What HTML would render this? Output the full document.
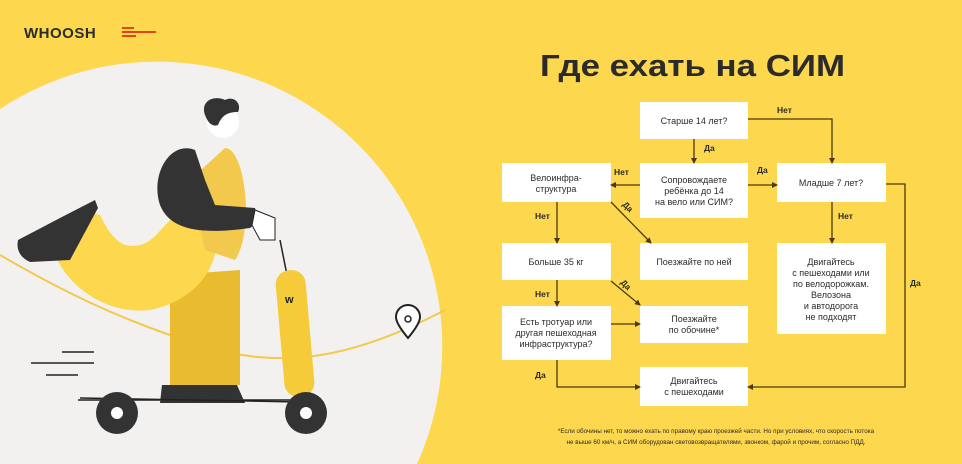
<!DOCTYPE html>
<html><head><meta charset="utf-8"><style>
html,body{margin:0;padding:0;background:#FDD74E;width:962px;height:464px;overflow:hidden;}
svg{display:block;overflow:hidden}
text{font-family:"Liberation Sans",sans-serif;}
</style></head><body>
<svg width="962" height="464" viewBox="0 0 962 464" xmlns="http://www.w3.org/2000/svg">
<defs>
<marker id="a" markerWidth="6" markerHeight="6" refX="5" refY="3" orient="auto" markerUnits="userSpaceOnUse"><path d="M0,0 L6,3 L0,6 z" fill="#4a3a10"/></marker>
</defs>
<rect width="962" height="464" fill="#FDD74E"/>
<path d="M0 109 A285 285 0 0 1 417 464 L0 464 Z" fill="#F2F1EF"/>
<text x="24" y="38" font-size="15" font-weight="bold" fill="#2b2b2b" letter-spacing="0.5">WHOOSH</text>
<path d="M122 28h12M122 32h34M122 36h14" stroke="#E0461E" stroke-width="2"/>
<path d="M0 255 C60 290,120 320,200 345 C280 370,350 360,445 310" stroke="#F2C94C" stroke-width="2" fill="none"/>
<path d="M408 338 C398 326,396 320,396 317 A12 12 0 1 1 420 317 C420 320,418 326,408 338z" fill="#fff" stroke="#222" stroke-width="2"/>
<circle cx="408" cy="319" r="3" fill="none" stroke="#222" stroke-width="1.5"/>
<path d="M62 352h32M31 363h63M46 375h32M78 400h212" stroke="#222" stroke-width="1.5"/>
<path d="M170 275 L240 270 L240 385 L170 385z" fill="#E8BC2E"/>
<path d="M162 385h75l8 18h-85z" fill="#333"/>
<path d="M55 255 C60 230,90 210,100 215 C110 235,120 250,140 245 C160 240,165 215,190 210 L215 220 C225 260,200 300,150 310 C110 315,70 290,55 255z" fill="#FDD74E"/>
<path d="M18 240 L60 218 L95 200 L98 208 L70 260 L30 262 Q15 255,18 240z" fill="#333"/>
<path d="M225 148 C245 148,255 230,235 260 L205 250 L190 180z" fill="#F2C94C"/>
<path d="M195 150 C170 140,150 175,160 205 C170 230,200 235,250 228 L258 222 L255 208 L215 205 L205 180z" fill="#333"/>
<path d="M255 210 L275 218 L275 240 L260 240 L252 225z" fill="#fff" stroke="#222" stroke-width="1"/>
<circle cx="223" cy="122" r="16" fill="#fff"/>
<path d="M205 115 C200 100,215 95,225 100 C235 95,242 105,238 112 C228 112,222 115,218 125 Q210 128,205 115z" fill="#333"/>
<path d="M280 240 L287 275" stroke="#222" stroke-width="1.5"/>
<rect x="280" y="270" width="30" height="127" rx="14" fill="#F6CB3A" transform="rotate(-5 295 333)"/>
<text x="285" y="303" font-size="11" font-weight="bold" fill="#222">w</text>
<path d="M80 398 L300 402" stroke="#222" stroke-width="1.5"/>
<circle cx="117" cy="413" r="21" fill="#333"/><circle cx="117" cy="413" r="6" fill="#fff"/>
<circle cx="306" cy="413" r="21" fill="#333"/><circle cx="306" cy="413" r="6" fill="#fff"/>

<text x="540" y="76" font-size="31" font-weight="bold" fill="#2b2b2b" textLength="305" lengthAdjust="spacingAndGlyphs">Где ехать на СИМ</text>

<g fill="#fff">
<rect x="640" y="102" width="108" height="37"/>
<rect x="640" y="163" width="108" height="55"/>
<rect x="777" y="163" width="109" height="39"/>
<rect x="502" y="163" width="109" height="39"/>
<rect x="502" y="243" width="109" height="37"/>
<rect x="640" y="243" width="108" height="37"/>
<rect x="777" y="243" width="109" height="91"/>
<rect x="502" y="306" width="109" height="54"/>
<rect x="640" y="306" width="108" height="37"/>
<rect x="640" y="367" width="108" height="39"/>
</g>
<g stroke="#4a3a10" stroke-width="1.3" fill="none" marker-end="url(#a)">
<path d="M748 119 H832 V163"/>
<path d="M694 139 V163"/>
<path d="M640 185 H611"/>
<path d="M748 185 H777"/>
<path d="M886 184 H905 V387 H748"/>
<path d="M832 202 V243"/>
<path d="M557 202 V243"/>
<path d="M611 202 L651 243"/>
<path d="M557 280 V306"/>
<path d="M611 281 L640 305"/>
<path d="M611 324 H640"/>
<path d="M557 360 V387 H640"/>
</g>
<g font-size="8.5" fill="#2b2b2b" font-weight="bold">
<text x="777" y="113">Нет</text>
<text x="704" y="151">Да</text>
<text x="614" y="175">Нет</text>
<text x="757" y="173">Да</text>
<text x="838" y="219">Нет</text>
<text x="535" y="219">Нет</text>
<text x="535" y="297">Нет</text>
<text x="535" y="378">Да</text>
<text x="910" y="286">Да</text>
<text x="0" y="0" transform="translate(622,205) rotate(45)">Да</text>
<text x="0" y="0" transform="translate(620,283) rotate(45)">Да</text>
</g>
<g font-size="9" fill="#2b2b2b" text-anchor="middle">
<text x="694" y="124">Старше 14 лет?</text>
<text x="694" y="183">Сопровождаете</text>
<text x="694" y="194">ребёнка до 14</text>
<text x="694" y="205">на вело или СИМ?</text>
<text x="831" y="186">Младше 7 лет?</text>
<text x="556" y="181">Велоинфра-</text>
<text x="556" y="192">структура</text>
<text x="556" y="265">Больше 35 кг</text>
<text x="694" y="265">Поезжайте по ней</text>
<text x="831" y="265">Двигайтесь</text>
<text x="831" y="276">с пешеходами или</text>
<text x="831" y="287">по велодорожкам.</text>
<text x="831" y="298">Велозона</text>
<text x="831" y="309">и автодорога</text>
<text x="831" y="320">не подходят</text>
<text x="556" y="325">Есть тротуар или</text>
<text x="556" y="336">другая пешеходная</text>
<text x="556" y="347">инфраструктура?</text>
<text x="694" y="322">Поезжайте</text>
<text x="694" y="333">по обочине*</text>
<text x="694" y="384">Двигайтесь</text>
<text x="694" y="395">с пешеходами</text>
<text x="716" y="433" font-size="6.3">*Если обочины нет, то можно ехать по правому краю проезжей части. Но при условиях, что скорость потока</text>
<text x="716" y="444" font-size="6.3">не выше 60 км/ч, а СИМ оборудован световозвращателями, звонком, фарой и прочим, согласно ПДД.</text>
</g>
</svg>
</body></html>
